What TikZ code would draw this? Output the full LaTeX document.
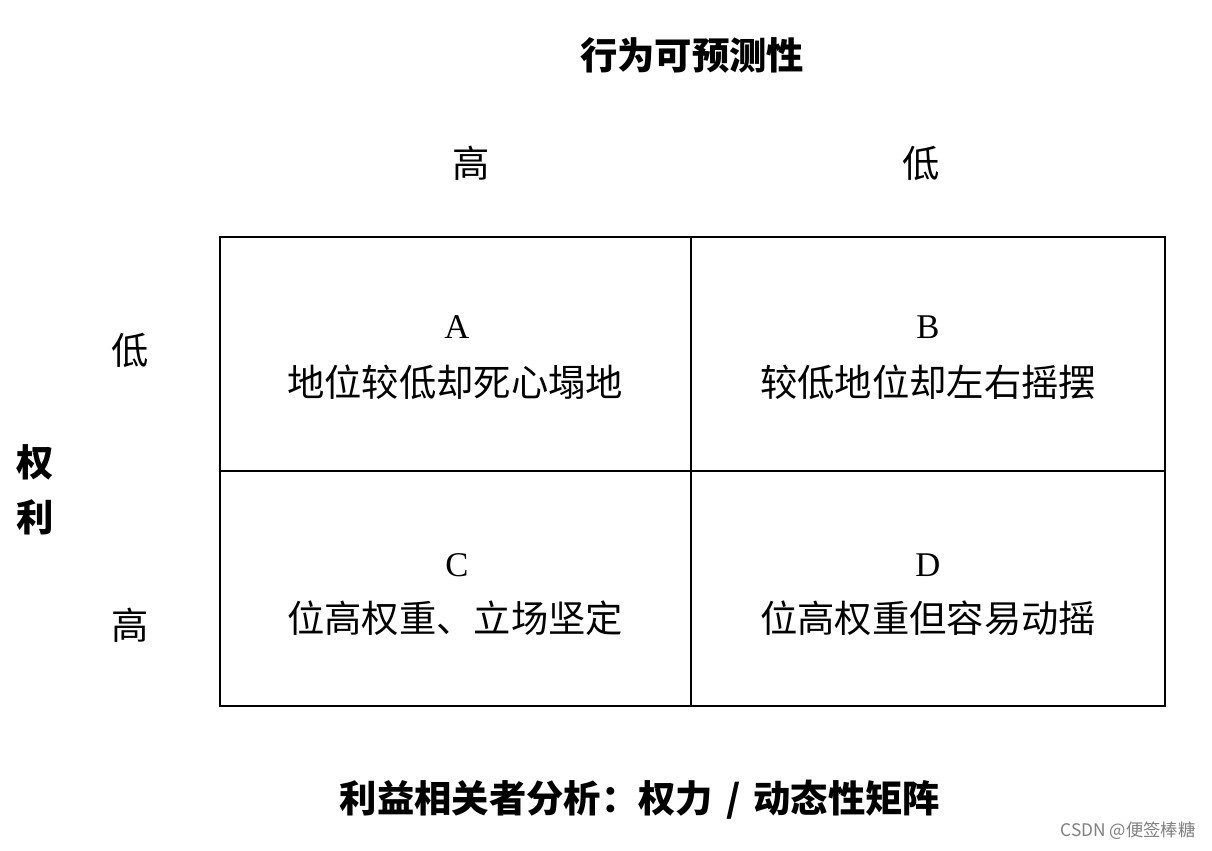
\documentclass[tikz,border=0pt]{standalone}
\usepackage{fontspec}
\setmainfont{Liberation Serif}
\newfontfamily\cjk{Noto Sans CJK SC}
\newfontfamily\wmfont{Noto Sans CJK SC}
\begin{document}
\begin{tikzpicture}[x=0.75pt,y=-0.75pt,
  txt/.style={inner sep=0pt,font=\cjk\fontsize{28}{32}\selectfont},
  btxt/.style={inner sep=0pt,font=\cjk\bfseries\fontsize{28}{32}\selectfont},
  lat/.style={inner sep=0pt,font=\fontsize{26}{30}\selectfont},
  grid/.style={line width=1.5pt,draw=black}]
\useasboundingbox[fill=white] (0,0) rectangle (1212,850);
% grid
\draw[grid] (220,237) rectangle (1165,706);
\draw[grid] (691,237) -- (691,706);
\draw[grid] (220,471) -- (1165,471);
% titles
\node[btxt] (title) at (692,55) {行为可预测性};
\node[txt] (colH) at (471,163) {高};
\node[txt] (colL) at (921,163) {低};
\node[txt] (rowL) at (130,350) {低};
\node[txt] (rowH) at (130,625) {高};
\node[btxt] (q1) at (35,462) {权};
\node[btxt] (q2) at (35,517) {利};
% cells
\node[lat] (A) at (457,327) {A};
\node[txt] (a) at (455,382) {地位较低却死心塌地};
\node[lat] (B) at (928,327) {B};
\node[txt] (b) at (928,382) {较低地位却左右摇摆};
\node[lat] (C) at (457,565) {C};
\node[txt] (c) at (455,618) {位高权重、立场坚定};
\node[lat] (D) at (928,565) {D};
\node[txt] (d) at (928,618) {位高权重但容易动摇};
% bottom
\node[btxt] (caption) at (640,800) {利益相关者分析：权力\hspace{0.35em}/\hspace{0.35em}动态性矩阵};
\node[inner sep=0pt,text=black!50,font=\wmfont\fontsize{13}{15}\selectfont] (wm) at (1128,831) {CSDN @便签棒糖};
\end{tikzpicture}
\end{document}
